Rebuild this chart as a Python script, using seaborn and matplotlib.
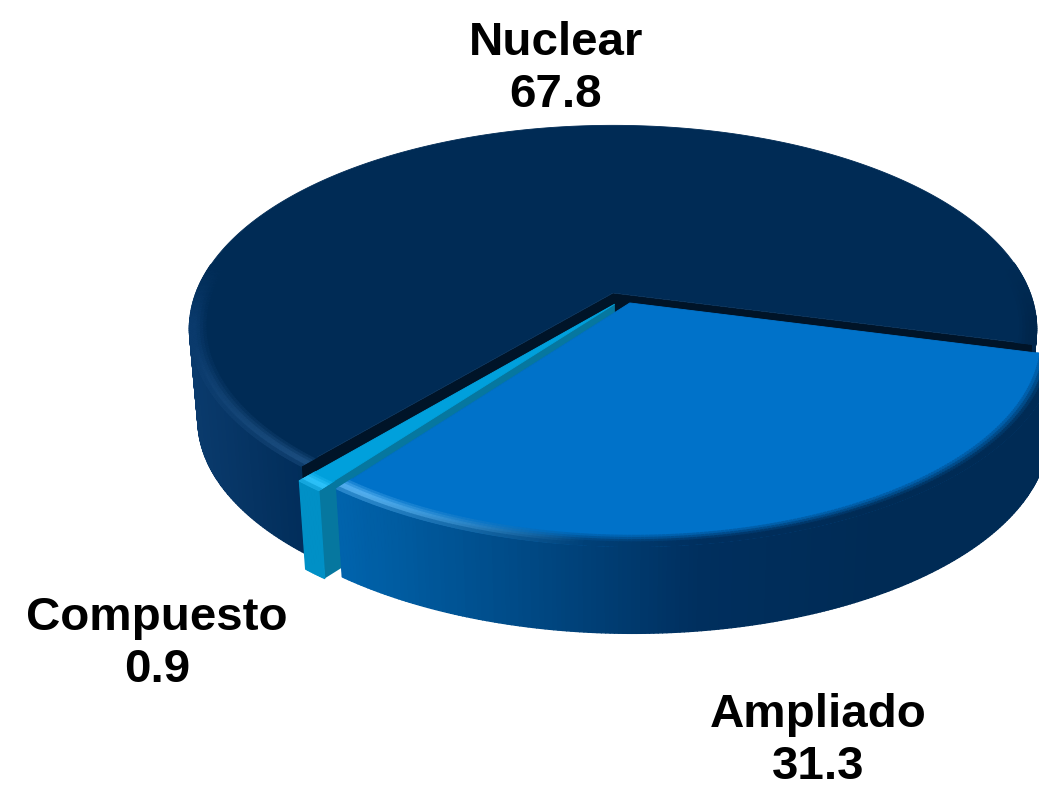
import numpy as np
import matplotlib
matplotlib.use("Agg")
import matplotlib.pyplot as plt
from matplotlib.collections import PolyCollection
from matplotlib.colors import to_rgb
import seaborn as sns

names = ["Nuclear", "Compuesto", "Ampliado"]
values = [67.8, 0.9, 31.3]
label_xy = [(556, 69), (157, 644), (818, 741)]

top_cols = ["#002b55", "#00a0dc", "#0072c9"]
wall_cols = ["#001428", "#06779f", "#003a70"]
side_stops = [["#0a3a6c", "#002c58", "#00264c", "#00264c", "#00264c", "#00264c", "#00264c", "#00264c"],
              ["#0090c6", "#0090c6"],
              ["#0063ac", "#004a86", "#002f5e", "#002b55", "#002b55"]]
rim_hi = ["#1f5285", "#33c8ff", "#5fb8f5"]

sns.set_theme(style="white")
plt.rcParams["font.family"] = ["Liberation Sans", "DejaVu Sans"]

start_ang = -14.5
cx, cy = 613.0, 293.0
a, b, k = 417.0, 197.0, 0.175
depth = 92.0
shrink = 0.02
shifts = [(0.0, 0.0), (0.004, -0.056), (0.04, -0.05)]


def project(th, r, z, shift):
    x = r * np.cos(th) + shift[0]
    y = r * np.sin(th) + shift[1]
    d = 1 + k * y
    px = cx + a * x / d * (1 - shrink * z)
    py = cy - b * y / d * (1 - shrink * z) + depth * z
    return np.column_stack([px * np.ones_like(th), py * np.ones_like(th)])


def mix(c1, c2, t):
    c1, c2 = np.array(to_rgb(c1)), np.array(to_rgb(c2))
    return tuple(c1 * (1 - t) + c2 * t)


def add_polys(ax, polys, cols, zo):
    pc = PolyCollection(polys, facecolors=cols, edgecolors=cols, linewidths=1.0, zorder=zo)
    ax.add_collection(pc)


fig = plt.figure(figsize=(10.39, 7.9), dpi=100)
ax = fig.add_axes([0, 0, 1, 1])
ax.set_xlim(0, 1039)
ax.set_ylim(790, 0)
ax.axis("off")

fracs = np.array(values) / sum(values)
edges = np.radians(start_ang + 360 * np.concatenate([[0], np.cumsum(fracs)]))
zo = 1
for i in range(len(values)):
    t0, t1 = edges[i], edges[i + 1]
    sh = shifts[i]
    n = max(int(np.degrees(t1 - t0) * 2), 8)
    ths = np.linspace(t0, t1, n + 1)

    # cut faces, from the centre out to the rim
    for t_edge in (t0, t1):
        e = np.array([t_edge])
        quad = np.vstack([project(e, 0.0, 0, sh), project(e, 1.0, 0, sh),
                          project(e, 1.0, 1, sh), project(e, 0.0, 1, sh)])
        ax.fill(quad[:, 0], quad[:, 1], color=wall_cols[i], lw=0, zorder=zo)
    zo += 1

    # outer wall, shaded along x
    pal = sns.blend_palette(side_stops[i], 200)
    up = project(ths, 1.0, 0, sh)
    lo = project(ths, 1.0, 1, sh)
    xr = (up[:, 0] - up[:, 0].min()) / max(np.ptp(up[:, 0]), 1)
    polys, cols = [], []
    for j in range(n):
        if np.sin(ths[j]) > -0.12:
            continue
        polys.append([up[j], up[j + 1], lo[j + 1], lo[j]])
        cols.append(pal[min(int(xr[j] * 199), 199)])
    add_polys(ax, polys, cols, zo)
    zo += 1

    # top face
    disc = np.vstack([project(np.array([0.0]), 0.0, 0, sh), project(ths, 1.0, 0, sh)])
    ax.fill(disc[:, 0], disc[:, 1], color=top_cols[i], lw=0.6, zorder=zo)
    zo += 1

    # soft bevel on the rim
    radii = np.linspace(0.955, 1.0, 7)
    polys, cols = [], []
    for j in range(n):
        s = np.sin(ths[j])
        c = np.cos(ths[j])
        if s > 0.15:
            continue
        fade = np.clip((0.15 - s) / 0.3, 0, 1)
        # lit on the left of the front, falling into the wall colour to the right
        lit = np.clip((-0.1 - c) / 0.45, 0, 1)
        if i == 0:
            lit = lit * np.clip((-s - 0.25) / 0.5, 0, 1)
        base = pal[min(int(xr[j] * 199), 199)]
        for q in range(len(radii) - 1):
            rr = (radii[q] - radii[0]) / (radii[-1] - radii[0])
            p1 = project(ths[j:j + 2], radii[q], 0, sh)
            p2 = project(ths[j:j + 2], radii[q + 1], 0, sh)
            polys.append([p1[0], p1[1], p2[1], p2[0]])
            hi = mix(base, rim_hi[i], lit)
            if rr < 0.6:
                col = mix(top_cols[i], hi, rr / 0.6)
            else:
                col = mix(hi, base, (rr - 0.6) / 0.4)
            cols.append(mix(top_cols[i], col, fade))
    add_polys(ax, polys, cols, zo)
    zo += 1

for nm, v, (lx, ly) in zip(names, values, label_xy):
    ax.text(lx, ly, f"{nm}\n{v}", ha="center", va="center", fontsize=34.2,
            fontweight="bold", color="black", linespacing=1.26, zorder=zo)

fig.savefig("out.png", dpi=100, facecolor="white")
